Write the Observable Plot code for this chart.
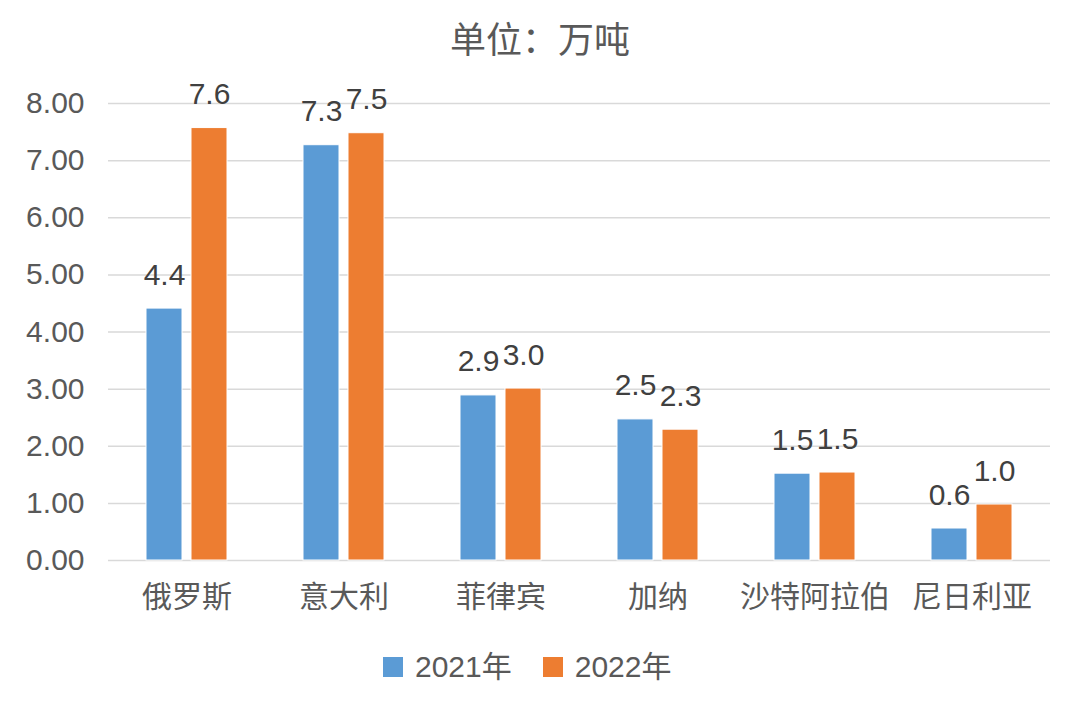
<!DOCTYPE html>
<html><head><meta charset="utf-8">
<script src="https://cdn.jsdelivr.net/npm/d3@7"></script>
<script src="https://cdn.jsdelivr.net/npm/@observablehq/plot@0.6"></script>
<style>
body{margin:0;background:#fff;font-family:"Liberation Sans","Noto Sans CJK SC",sans-serif;width:1080px;height:713px;overflow:hidden;}
#title{height:68px;padding-top:6px;box-sizing:border-box;display:flex;align-items:center;justify-content:center;font-size:36px;color:#595959;}
#chart svg{display:block;}
#legend{position:relative;height:93px;}
#legend .wrap{position:absolute;left:383px;top:37px;display:flex;align-items:center;}
#legend .item{display:flex;align-items:center;font-size:30px;color:#595959;line-height:20px;}
#legend .sw{width:20px;height:20px;margin-right:12px;}
</style>
</head><body>
<div id="title">单位：万吨</div>
<div id="chart"></div>
<div id="legend"><div class="wrap"></div></div>
<script>
const countries = ["俄罗斯","意大利","菲律宾","加纳","沙特阿拉伯","尼日利亚"];
const years = ["2021年","2022年"];
const values2021 = [4.41, 7.27, 2.89, 2.47, 1.52, 0.56];
const values2022 = [7.57, 7.48, 3.01, 2.29, 1.54, 0.98];
const yTicks = [0,1,2,3,4,5,6,7,8];
const colors = ["#5B9BD5","#ED7D31"];

const data = countries.flatMap((c,i)=>[
  {country:c, year:years[0], value:values2021[i]},
  {country:c, year:years[1], value:values2022[i]}
]);

const chart = Plot.plot({
  width:1080, height:552,
  marginTop:35, marginBottom:60, marginLeft:107, marginRight:29,
  fx:{domain:countries, padding:0, label:null, axis:null},
  x:{domain:years, paddingInner:0.21, paddingOuter:0.83, axis:null},
  y:{domain:[0,8]},
  color:{domain:years, range:colors},
  style:{fontFamily:'"Liberation Sans","Noto Sans CJK SC",sans-serif', fontSize:"30px", color:"#595959", background:"white"},
  marks:[
    Plot.gridY(yTicks,{stroke:"#d9d9d9", strokeOpacity:1, strokeWidth:1.5}),
    Plot.axisY(yTicks,{tickSize:0, tickPadding:24, tickFormat:d3.format(".2f"), label:null, fontSize:30}),
    Plot.axisFx({anchor:"bottom", tickSize:0, tickPadding:25, label:null, fontSize:30}),
    Plot.barY(data,{fx:"country", x:"year", y:"value", fill:"year", stroke:"white", strokeWidth:1}),
    Plot.text(data,{fx:"country", x:"year", y:"value", text:d=>d.value.toFixed(1), dy:-24, lineAnchor:"bottom", fill:"#404040", fontSize:30})
  ]
});
document.getElementById("chart").appendChild(chart);

const wrap = document.querySelector("#legend .wrap");
years.forEach((y,i)=>{
  const it = document.createElement("div");
  it.className="item";
  if(i===0) it.style.marginRight="31px";
  const sw = document.createElement("span");
  sw.className="sw"; sw.style.background=colors[i];
  const t = document.createElement("span");
  t.textContent=y;
  it.appendChild(sw); it.appendChild(t);
  wrap.appendChild(it);
});
</script>
</body></html>
